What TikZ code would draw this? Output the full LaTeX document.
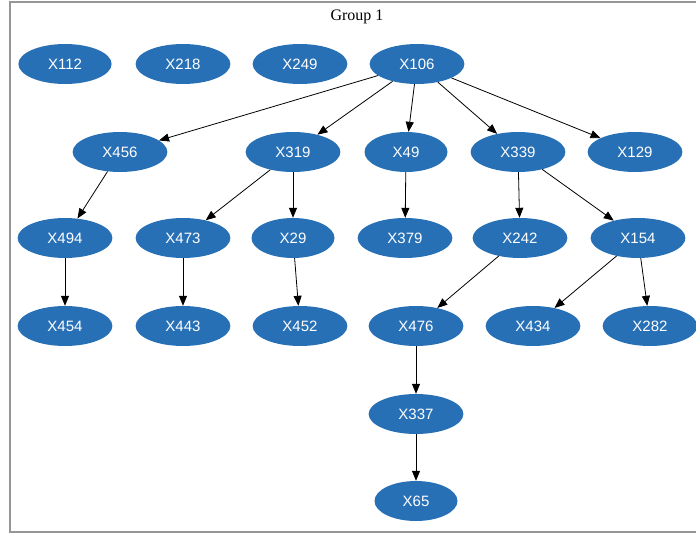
\documentclass[tikz,border=0pt]{standalone}
\usepackage{fontspec}
\setmainfont{Liberation Serif}
\newfontfamily\nodefont{Liberation Sans}
\usepackage{xcolor}
\definecolor{nodeblue}{RGB}{40,112,182}
\definecolor{framegray}{RGB}{150,150,150}
\usetikzlibrary{shapes.geometric, arrows.meta}

\tikzset{
    var/.style={ellipse, fill=nodeblue, draw=none, text=white, font=\nodefont\fontsize{15}{17}\selectfont,
        inner xsep=16pt, inner ysep=0pt, minimum height=40pt},
    link/.style={-{Triangle[length=10pt,width=8pt]}, draw=black, line width=0.8pt}
}

\begin{document}
\begin{tikzpicture}[x=1pt, y=-1pt]
        \useasboundingbox (0,0) rectangle (696,535);
        % Cadre du groupe
        \draw[framegray, line width=2pt] (10,2) rectangle (705,532);
        \node[font=\fontsize{16}{18}\selectfont] (title) at (357,17) {Group 1};

        % Ligne 1
        \node[var] (x112) at (65,64) {X112};
        \node[var] (x218) at (183,64) {X218};
        \node[var] (x249) at (300,64) {X249};
        \node[var] (x106) at (417,64) {X106};

        % Ligne 2
        \node[var] (x456) at (120,152) {X456};
        \node[var] (x319) at (293,152) {X319};
        \node[var] (x49) at (406,152) {X49};
        \node[var] (x339) at (518,152) {X339};
        \node[var] (x129) at (635,152) {X129};

        % Ligne 3
        \node[var] (x494) at (65,238) {X494};
        \node[var] (x473) at (183,238) {X473};
        \node[var] (x29) at (293,238) {X29};
        \node[var] (x379) at (405,238) {X379};
        \node[var] (x242) at (520,238) {X242};
        \node[var] (x154) at (638,238) {X154};

        % Ligne 4
        \node[var] (x454) at (65,326) {X454};
        \node[var] (x443) at (183,326) {X443};
        \node[var] (x452) at (300,326) {X452};
        \node[var] (x476) at (416,326) {X476};
        \node[var] (x434) at (533,326) {X434};
        \node[var] (x282) at (650,326) {X282};

        % Lignes 5 et 6
        \node[var] (x337) at (416,414) {X337};
        \node[var] (x65) at (416,501) {X65};

        % Arcs
        \draw[link] (x106) -- (x456);
        \draw[link] (x106) -- (x319);
        \draw[link] (x106) -- (x49);
        \draw[link] (x106) -- (x339);
        \draw[link] (x106) -- (x129);
        \draw[link] (x456) -- (x494);
        \draw[link] (x494) -- (x454);
        \draw[link] (x319) -- (x473);
        \draw[link] (x319) -- (x29);
        \draw[link] (x473) -- (x443);
        \draw[link] (x29) -- (x452);
        \draw[link] (x49) -- (x379);
        \draw[link] (x339) -- (x242);
        \draw[link] (x339) -- (x154);
        \draw[link] (x242) -- (x476);
        \draw[link] (x154) -- (x434);
        \draw[link] (x154) -- (x282);
        \draw[link] (x476) -- (x337);
        \draw[link] (x337) -- (x65);
    \end{tikzpicture}
\end{document}
